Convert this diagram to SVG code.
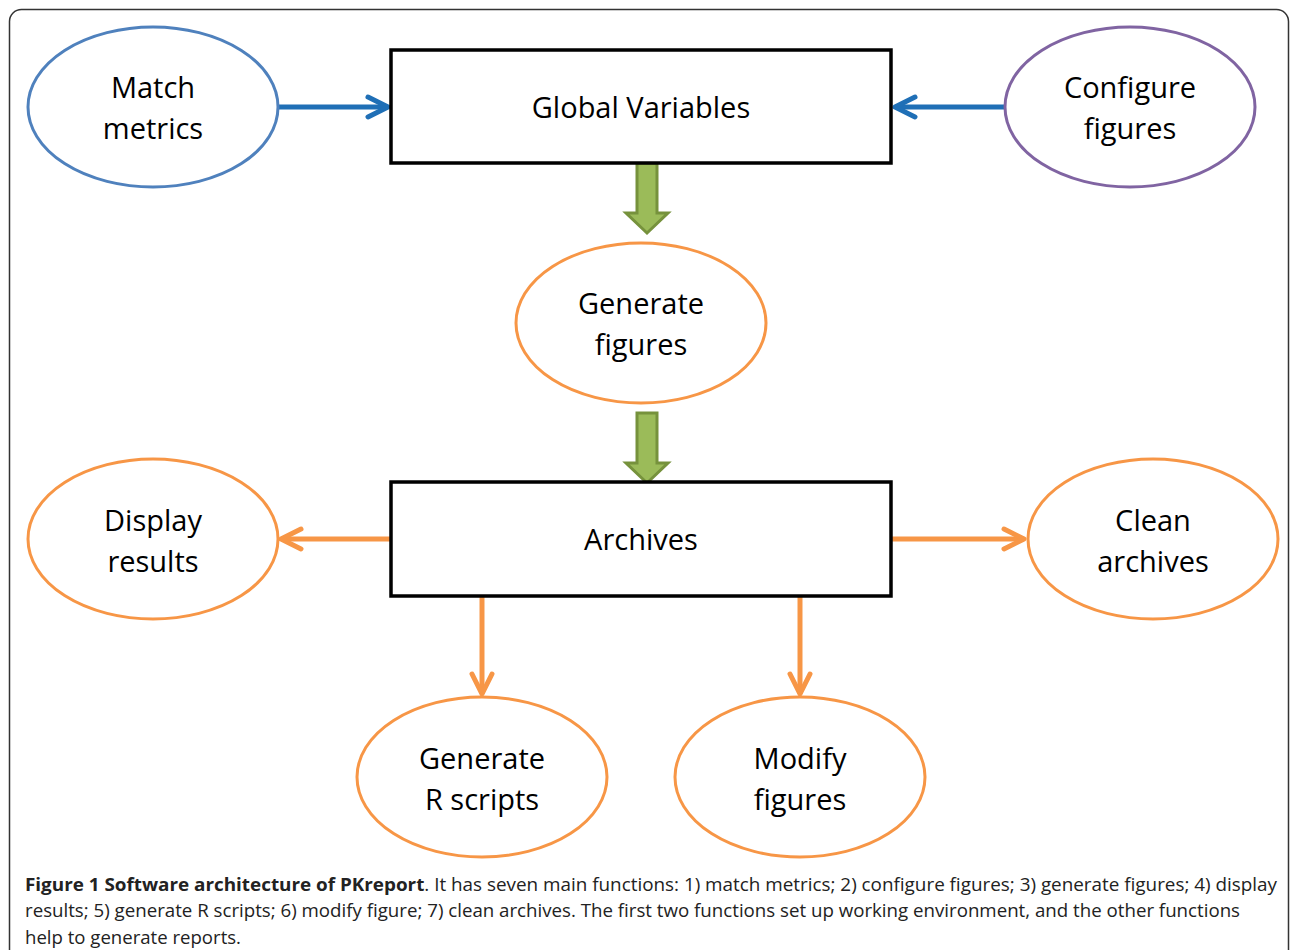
<svg xmlns="http://www.w3.org/2000/svg" width="1292" height="950" viewBox="0 0 1292 950">
  <style>
    .lbl { font-family: "Open Sans", "Liberation Sans", sans-serif; font-size: 29px; fill: #000; text-anchor: middle; }
    .cap { font-family: "Open Sans", "Liberation Sans", sans-serif; font-size: 18px; fill: #222; }
    .box { fill: #fff; stroke: #000; stroke-width: 3.5; }
    .ell { fill: #fff; stroke-width: 3; }
    .orange { stroke: #f79646; }
    .purple { stroke: #8064a2; }
    .steel { stroke: #4f81bd; }
    .conn { fill: none; stroke-width: 5; }
    .block { fill: #9bbb59; stroke: #76923c; stroke-width: 3; }
  </style>
  <defs>
    <marker id="head-blue" markerUnits="userSpaceOnUse" markerWidth="30" markerHeight="30" refX="24" refY="15" orient="auto">
      <path d="M4,5 L24,15 L4,25" fill="none" stroke="#1f6fb6" stroke-width="5" stroke-linecap="round" stroke-linejoin="round"/>
    </marker>
    <marker id="head-orange" markerUnits="userSpaceOnUse" markerWidth="30" markerHeight="30" refX="24" refY="15" orient="auto">
      <path d="M4,5 L24,15 L4,25" fill="none" stroke="#f79646" stroke-width="5" stroke-linecap="round" stroke-linejoin="round"/>
    </marker>
  </defs>

  <rect width="1292" height="950" fill="#fff"/>
  <!-- outer frame -->
  <rect x="9.5" y="9.5" width="1279" height="960" rx="12" fill="none" stroke="#333" stroke-width="1.5"/>

  <g id="connectors">
    <line class="conn" x1="279" y1="107" x2="388" y2="107" stroke="#1f6fb6" marker-end="url(#head-blue)"/>
    <line class="conn" x1="1004" y1="107" x2="895" y2="107" stroke="#1f6fb6" marker-end="url(#head-blue)"/>
    <path class="block" d="M637,163 V213 H626 L647,233 L668,213 H657 V163 Z"/>
    <path class="block" d="M637,413 V463 H626 L647,483 L668,463 H657 V413 Z"/>
    <line class="conn" x1="391" y1="539" x2="281" y2="539" stroke="#f79646" marker-end="url(#head-orange)"/>
    <line class="conn" x1="891" y1="539" x2="1024" y2="539" stroke="#f79646" marker-end="url(#head-orange)"/>
    <line class="conn" x1="482" y1="596" x2="482" y2="694" stroke="#f79646" marker-end="url(#head-orange)"/>
    <line class="conn" x1="800" y1="596" x2="800" y2="694" stroke="#f79646" marker-end="url(#head-orange)"/>
  </g>

  <g id="match-metrics">
    <ellipse class="ell steel" cx="153" cy="107" rx="125" ry="80"/>
    <text class="lbl" x="153" y="98">Match</text>
    <text class="lbl" x="153" y="139">metrics</text>
  </g>
  <g id="global-variables">
    <rect class="box" x="391" y="50" width="500" height="113"/>
    <text class="lbl" x="641" y="118">Global Variables</text>
  </g>
  <g id="configure-figures">
    <ellipse class="ell purple" cx="1130" cy="107" rx="125" ry="80"/>
    <text class="lbl" x="1130" y="98">Configure</text>
    <text class="lbl" x="1130" y="139">figures</text>
  </g>
  <g id="generate-figures">
    <ellipse class="ell orange" cx="641" cy="323" rx="125" ry="80"/>
    <text class="lbl" x="641" y="314">Generate</text>
    <text class="lbl" x="641" y="355">figures</text>
  </g>
  <g id="archives">
    <rect class="box" x="391" y="482" width="500" height="114"/>
    <text class="lbl" x="641" y="550">Archives</text>
  </g>
  <g id="display-results">
    <ellipse class="ell orange" cx="153" cy="539" rx="125" ry="80"/>
    <text class="lbl" x="153" y="531">Display</text>
    <text class="lbl" x="153" y="572">results</text>
  </g>
  <g id="clean-archives">
    <ellipse class="ell orange" cx="1153" cy="539" rx="125" ry="80"/>
    <text class="lbl" x="1153" y="531">Clean</text>
    <text class="lbl" x="1153" y="572">archives</text>
  </g>
  <g id="generate-r-scripts">
    <ellipse class="ell orange" cx="482" cy="777" rx="125" ry="80"/>
    <text class="lbl" x="482" y="769">Generate</text>
    <text class="lbl" x="482" y="810">R scripts</text>
  </g>
  <g id="modify-figures">
    <ellipse class="ell orange" cx="800" cy="777" rx="125" ry="80"/>
    <text class="lbl" x="800" y="769">Modify</text>
    <text class="lbl" x="800" y="810">figures</text>
  </g>

  <g id="caption">
    <text class="cap" x="25" y="891" textLength="1252" lengthAdjust="spacingAndGlyphs"><tspan font-weight="bold">Figure 1 Software architecture of PKreport</tspan>. It has seven main functions: 1) match metrics; 2) configure figures; 3) generate figures; 4) display</text>
    <text class="cap" x="25" y="917" textLength="1215" lengthAdjust="spacingAndGlyphs">results; 5) generate R scripts; 6) modify figure; 7) clean archives. The first two functions set up working environment, and the other functions</text>
    <text class="cap" x="25" y="944" textLength="216" lengthAdjust="spacingAndGlyphs">help to generate reports.</text>
  </g>
</svg>
